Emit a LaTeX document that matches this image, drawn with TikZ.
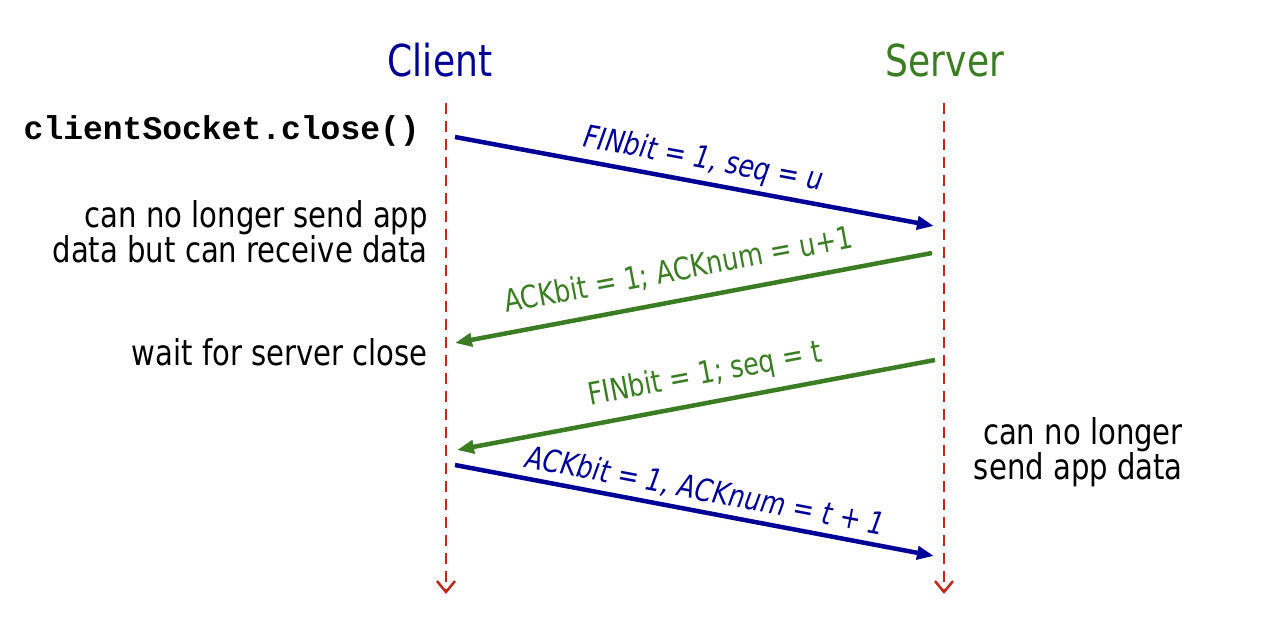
\documentclass[tikz,border=0pt]{standalone}
\usepackage{fontspec}
\setmainfont[FakeStretch=0.82]{DejaVu Sans}
\setmonofont{Liberation Mono}
\usetikzlibrary{arrows.meta}
\definecolor{cblue}{RGB}{0,0,150}
\definecolor{cgreen}{RGB}{58,125,34}
\definecolor{cred}{RGB}{192,40,30}
\begin{document}
\begin{tikzpicture}[x=1pt,y=-1pt,
  lifeline/.style={cred, line width=2.2pt, dash pattern=on 11pt off 7pt,
    -{Straight Barb[length=11pt,width=18pt,line width=2.5pt]}},
  msg/.style={line width=4.5pt, -{Triangle[length=17pt,width=13pt]}},
  title/.style={font=\fontsize{44}{50}\selectfont, anchor=base, inner sep=0pt},
  note/.style={font=\fontsize{35.5}{34}\selectfont, inner sep=0pt, align=right},
  lab/.style={font=\fontsize{31}{34}\selectfont, sloped, anchor=base, inner sep=0pt}]
\useasboundingbox (0,0) rectangle (1282,644);

% titles
\node[title, text=cblue] (client) at (440,77) {Client};
\node[title, text=cgreen] (server) at (945,77) {Server};

% lifelines
\coordinate (ctop) at (446,103);
\coordinate (cbot) at (446,594);
\coordinate (stop) at (944,103);
\coordinate (sbot) at (944,594);
\draw[lifeline] (ctop) -- (cbot);
\draw[lifeline] (stop) -- (sbot);

% message endpoints
\coordinate (m1s) at (455,137);
\coordinate (m1e) at (934,226);
\coordinate (m2s) at (932,253);
\coordinate (m2e) at (455,343);
\coordinate (m3s) at (935,360);
\coordinate (m3e) at (457,450);
\coordinate (m4s) at (455,465);
\coordinate (m4e) at (934,556);

\draw[msg, cblue] (m1s) -- node[lab, text=cblue, pos=0.51, yshift=14pt] (l1) {\itshape FINbit = 1, seq = u} (m1e);
\draw[msg, cgreen] (m2s) -- node[lab, text=cgreen, pos=0.52, yshift=20pt] (l2) {ACKbit = 1; ACKnum = u+1} (m2e);
\draw[msg, cgreen] (m3s) -- node[lab, text=cgreen, pos=0.47, yshift=19pt] (l3) {FINbit = 1; seq = t} (m3e);
\draw[msg, cblue] (m4s) -- node[lab, text=cblue, pos=0.515, yshift=11pt] (l4) {\itshape ACKbit = 1, ACKnum = t + 1} (m4e);

% side notes
\node[anchor=base east, inner sep=0pt, font=\fontsize{33}{34}\selectfont\ttfamily\bfseries] (close) at (420,140) {clientSocket.close()};
\node[note, anchor=east] (nosend) at (428,232) {can no longer send app\\data but can receive data};
\node[note, anchor=base east] (wait) at (428,365) {wait for server close};
\node[note, anchor=east] (srvnote) at (1183,452) {can no longer\\send app data};
\end{tikzpicture}
\end{document}
